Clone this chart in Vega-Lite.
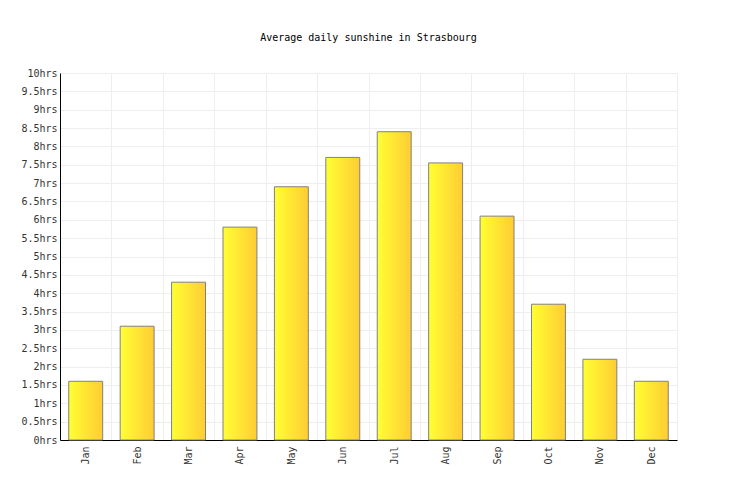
{
  "$schema": "https://vega.github.io/schema/vega-lite/v6.json",
  "description": "Average daily sunshine in Strasbourg",
  "width": 617,
  "height": 367,
  "autosize": "none",
  "padding": {"left": 60, "top": 73, "right": 59, "bottom": 60},
  "background": "white",
  "title": {
    "text": "Average daily sunshine in Strasbourg",
    "font": "DejaVu Sans Mono",
    "fontSize": 10,
    "fontWeight": "normal",
    "color": "#000000",
    "anchor": "middle",
    "offset": 25
  },
  "data": {
    "values": [
      {"month": "Jan", "hours": 1.6},
      {"month": "Feb", "hours": 3.1},
      {"month": "Mar", "hours": 4.3},
      {"month": "Apr", "hours": 5.8},
      {"month": "May", "hours": 6.9},
      {"month": "Jun", "hours": 7.7},
      {"month": "Jul", "hours": 8.4},
      {"month": "Aug", "hours": 7.55},
      {"month": "Sep", "hours": 6.1},
      {"month": "Oct", "hours": 3.7},
      {"month": "Nov", "hours": 2.2},
      {"month": "Dec", "hours": 1.6}
    ]
  },
  "mark": {
    "type": "bar",
    "width": {"band": 0.66},
    "stroke": "#808080",
    "strokeWidth": 1,
    "color": {
      "gradient": "linear",
      "x1": 0, "y1": 0, "x2": 1, "y2": 0,
      "stops": [
        {"offset": 0, "color": "#ffff33"},
        {"offset": 1, "color": "#ffcc33"}
      ]
    }
  },
  "encoding": {
    "x": {
      "field": "month",
      "type": "nominal",
      "sort": null,
      "title": null,
      "scale": {"paddingInner": 0, "paddingOuter": 0},
      "axis": {
        "labelAngle": -90,
        "labelFont": "DejaVu Sans Mono",
        "labelFontSize": 10,
        "labelColor": "#333333",
        "labelPadding": 6,
        "ticks": false,
        "tickBand": "extent",
        "grid": true,
        "gridColor": "#eeeeee",
        "domainColor": "#000000",
        "domainWidth": 1
      }
    },
    "y": {
      "field": "hours",
      "type": "quantitative",
      "title": null,
      "scale": {"domain": [0, 10], "nice": false},
      "axis": {
        "values": [0, 0.5, 1, 1.5, 2, 2.5, 3, 3.5, 4, 4.5, 5, 5.5, 6, 6.5, 7, 7.5, 8, 8.5, 9, 9.5, 10],
        "labelExpr": "datum.value + 'hrs'",
        "labelFont": "DejaVu Sans Mono",
        "labelFontSize": 10,
        "labelColor": "#333333",
        "labelPadding": 3,
        "ticks": false,
        "grid": true,
        "gridColor": "#eeeeee",
        "domainColor": "#000000",
        "domainWidth": 1
      }
    }
  },
  "config": {
    "view": {"stroke": "#eeeeee"}
  }
}
